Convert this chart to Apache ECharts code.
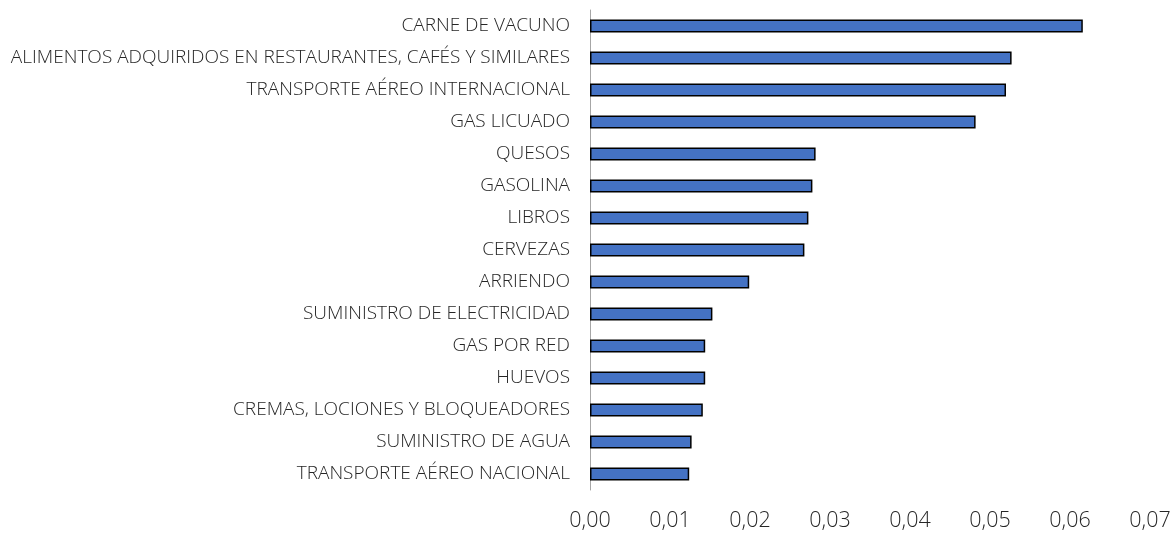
<!DOCTYPE html>
<html>
<head>
<meta charset="utf-8">
<script src="https://cdn.jsdelivr.net/npm/echarts@6/dist/echarts.min.js"></script>
<style>
  html, body { margin: 0; padding: 0; background: #fff; }
  #chart { width: 1175px; height: 537px; }
</style>
</head>
<body>
<div id="chart"></div>
<script>
// categorias (de arriba hacia abajo)
const categories = [
  'CARNE DE VACUNO',
  'ALIMENTOS ADQUIRIDOS EN RESTAURANTES, CAFÉS Y SIMILARES',
  'TRANSPORTE AÉREO INTERNACIONAL',
  'GAS LICUADO',
  'QUESOS',
  'GASOLINA',
  'LIBROS',
  'CERVEZAS',
  'ARRIENDO',
  'SUMINISTRO DE ELECTRICIDAD',
  'GAS POR RED',
  'HUEVOS',
  'CREMAS, LOCIONES Y BLOQUEADORES',
  'SUMINISTRO DE AGUA',
  'TRANSPORTE AÉREO NACIONAL'
];
const values = [
  0.0616, 0.0527, 0.0520, 0.0482, 0.0282, 0.0278, 0.0273, 0.0268,
  0.0199, 0.0153, 0.0144, 0.0144, 0.0141, 0.0127, 0.0124
];
const xTicks = [0, 0.01, 0.02, 0.03, 0.04, 0.05, 0.06, 0.07];

const font = '"Open Sans", sans-serif';
const myChart = echarts.init(document.getElementById('chart'));
myChart.setOption({
  animation: false,
  grid: { left: 590, right: 25, top: 10, bottom: 47, containLabel: false },
  xAxis: {
    type: 'value',
    min: xTicks[0],
    max: xTicks[xTicks.length - 1],
    interval: 0.01,
    axisLine: { show: false },
    axisTick: { show: false },
    splitLine: { show: false },
    axisLabel: {
      margin: 20,
      fontFamily: font,
      fontWeight: 300,
      fontSize: 21.5,
      color: '#262626',
      formatter: (v) => v.toFixed(2).replace('.', ',')
    }
  },
  yAxis: {
    type: 'category',
    inverse: true,
    data: categories,
    axisLine: { show: true, lineStyle: { color: '#a6a6a6', width: 1 } },
    axisTick: { show: false },
    splitLine: { show: false },
    axisLabel: {
      margin: 20,
      fontFamily: font,
      fontWeight: 300,
      fontSize: 19,
      color: '#262626'
    }
  },
  series: [{
    type: 'bar',
    data: values,
    barWidth: 13,
    itemStyle: { color: '#4472c4', borderColor: '#000', borderWidth: 1.5 }
  }]
});
</script>
</body>
</html>
